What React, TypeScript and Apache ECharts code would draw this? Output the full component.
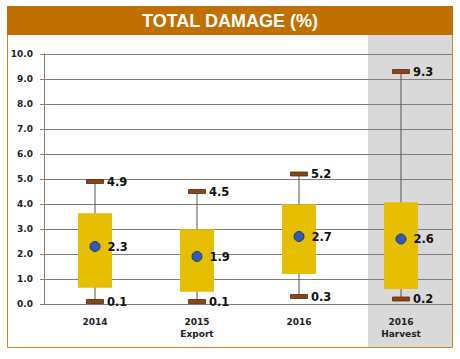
import React, { useEffect, useRef } from "react";
import * as echarts from "echarts";

const categories = ["2014", "2015\nExport", "2016", "2016\nHarvest"];
const whiskerMin = [0.1, 0.1, 0.3, 0.2];
const whiskerMax = [4.9, 4.5, 5.2, 9.3];
const boxLow = [0.65, 0.49, 1.2, 0.6];
const boxHigh = [3.63, 2.99, 3.99, 4.07];
const means = [2.3, 1.9, 2.7, 2.6];
const yTicks = [0, 1, 2, 3, 4, 5, 6, 7, 8, 9, 10];

const LABEL_FONT = "DejaVu Sans";

export default function App() {
  const ref = useRef<HTMLDivElement>(null);
  useEffect(() => {
    if (!ref.current) return;
    const chart = echarts.init(ref.current, null, { renderer: "svg" });
    const boxData = categories.map((_, i) => [i, whiskerMin[i], boxLow[i], boxHigh[i], whiskerMax[i]]);
    chart.setOption({
      animation: false,
      backgroundColor: "#ffffff",
      grid: { left: 44, right: 8, top: 54, bottom: 55, containLabel: false },
      graphic: [
        { type: "rect", z: -20, shape: { x: 368, y: 35, width: 84, height: 313 }, style: { fill: "#D9D9D9" }, silent: true },
        { type: "rect", z: -19, shape: { x: 7.5, y: 6.5, width: 445, height: 341 }, style: { fill: "none", stroke: "#C8862A", lineWidth: 1 }, silent: true },
        { type: "rect", z: 10, shape: { x: 7, y: 6, width: 446, height: 29 }, style: { fill: "#BF7000" }, silent: true },
        {
          type: "text", z: 11, x: 230, y: 21,
          style: { text: "TOTAL DAMAGE (%)", fill: "#ffffff", font: "bold 18px 'Liberation Sans'", align: "center", verticalAlign: "middle" },
        },
      ],
      xAxis: {
        type: "category",
        data: categories,
        axisLine: { show: false },
        axisTick: { show: false },
        axisLabel: { color: "#222", fontFamily: LABEL_FONT, fontWeight: "bold", fontSize: 9, margin: 12, lineHeight: 12 },
        splitLine: { show: false },
      },
      yAxis: {
        type: "value",
        min: 0,
        max: 10,
        interval: 1,
        axisLine: { show: true, lineStyle: { color: "#7F7F7F", width: 1 } },
        axisTick: { show: true, length: 4, lineStyle: { color: "#7F7F7F" } },
        axisLabel: {
          color: "#222", fontFamily: LABEL_FONT, fontWeight: "bold", fontSize: 9, margin: 11,
          formatter: (v: number) => (yTicks.includes(v) ? v.toFixed(1) : ""),
        },
        splitLine: { show: true, lineStyle: { color: "#7F7F7F", width: 1 } },
      },
      series: [
        {
          type: "custom",
          data: boxData,
          z: 3,
          renderItem: (params: any, api: any) => {
            const x = api.value(0);
            const pMin = api.coord([x, api.value(1)]);
            const pLow = api.coord([x, api.value(2)]);
            const pHigh = api.coord([x, api.value(3)]);
            const pMax = api.coord([x, api.value(4)]);
            const cx = pMin[0];
            const boxW = 34;
            const capW = 17;
            const capH = 4;
            const txtStyle = (val: number, y: number) => ({
              type: "text",
              x: cx + 12,
              y: y,
              style: {
                text: val.toFixed(1),
                fill: "#111",
                font: `bold 11.5px '${LABEL_FONT}'`,
                align: "left",
                verticalAlign: "middle",
              },
            });
            return {
              type: "group",
              children: [
                { type: "line", shape: { x1: cx, y1: pMin[1], x2: cx, y2: pMax[1] }, style: { stroke: "#555", lineWidth: 1 } },
                { type: "rect", shape: { x: cx - boxW / 2, y: pHigh[1], width: boxW, height: pLow[1] - pHigh[1] }, style: { fill: "#E5BF00" } },
                { type: "rect", shape: { x: cx - capW / 2, y: pMax[1] - capH / 2, width: capW, height: capH }, style: { fill: "#8B4513", stroke: "#5A2A0A", lineWidth: 0.8 } },
                { type: "rect", shape: { x: cx - capW / 2, y: pMin[1] - capH / 2, width: capW, height: capH }, style: { fill: "#8B4513", stroke: "#5A2A0A", lineWidth: 0.8 } },
                txtStyle(api.value(4), pMax[1]),
                txtStyle(api.value(1), pMin[1]),
              ],
            };
          },
        },
        {
          type: "scatter",
          z: 5,
          data: means.map((m, i) => [i, m]),
          symbol: "circle",
          symbolSize: 10,
          itemStyle: { color: "#2F5DB5", borderColor: "#1B3A7A", borderWidth: 1, opacity: 1 },
          label: {
            show: true,
            position: "right",
            distance: 7,
            color: "#111",
            fontFamily: LABEL_FONT,
            fontWeight: "bold",
            fontSize: 11.5,
            formatter: (p: any) => p.value[1].toFixed(1),
          },
        },
      ],
    });
    return () => chart.dispose();
  }, []);
  return <div ref={ref} style={{ width: 460, height: 359, position: "absolute", left: 0, top: 0 }} />;
}
